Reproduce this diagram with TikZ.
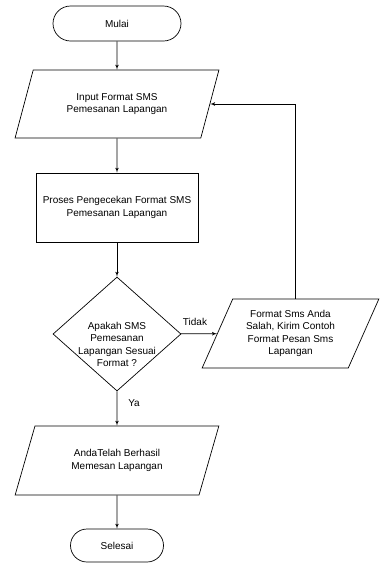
\documentclass[tikz,border=0pt]{standalone}
\usepackage{fontspec}
\setmainfont{Liberation Sans}
\usepackage{tikz}
\usetikzlibrary{arrows,shapes.geometric}

\begin{document}
\begin{tikzpicture}[x=1pt,y=-1pt,font=\fontsize{10}{12.3}\selectfont]
        \tikzset{terminal/.style = {shape=rectangle,draw,line width=0.7pt,inner sep=0pt}};
        \tikzset{io/.style = {shape=trapezium,draw,line width=0.7pt,trapezium left angle=63,trapezium right angle=117,trapezium stretches=true,inner sep=0pt,align=center}};
        \tikzset{process/.style = {shape=rectangle,draw,line width=0.7pt,minimum width=162pt,minimum height=69pt,align=center}};
        \tikzset{decision/.style = {shape=diamond,draw,line width=0.7pt,minimum width=128pt,minimum height=114pt,inner sep=0pt}};
        \tikzset{edge/.style = {->,> = latex',line width=0.7pt}};
        \useasboundingbox (0,0) rectangle (380,563);
        \node[terminal,rounded corners=17.5pt,minimum width=128pt,minimum height=35pt] (mulai) at (117,23.5) {Mulai};
        \node[io,minimum width=204pt,minimum height=68pt] (input) at (117,104) {Input Format SMS\\Pemesanan Lapangan};
        \node[process] (cek) at (117,207.5) {Proses Pengecekan Format SMS\\Pemesanan Lapangan};
        \node[decision] (sesuai) at (117,334) {};
        \node[align=center] (tanya) at (117,344.5) {Apakah SMS\\Pemesanan\\Lapangan Sesuai\\Format ?};
        \node[io,minimum width=177pt,minimum height=69pt] (salah) at (290.5,333.5) {Format Sms Anda\\Salah, Kirim Contoh\\Format Pesan Sms\\Lapangan};
        \node[io,minimum width=204pt,minimum height=69pt] (berhasil) at (117,460.5) {AndaTelah Berhasil\\Memesan Lapangan};
        \node[terminal,rounded corners=16.5pt,minimum width=93pt,minimum height=33pt] (selesai) at (117,545.5) {Selesai};
        \node (tidak) at (195,322) {Tidak};
        \node (ya) at (134,403) {Ya};
        \draw[edge] (mulai)  to (input);
        \draw[edge] (input)  to (cek);
        \draw[edge] (cek)  to (sesuai);
        \draw[edge] (sesuai)  to (salah);
        \draw[edge] (sesuai)  to (berhasil);
        \draw[edge] (berhasil)  to (selesai);
        \draw[edge] ([xshift=4.5pt]salah.north) |- (input.east);
    \end{tikzpicture}
\end{document}
